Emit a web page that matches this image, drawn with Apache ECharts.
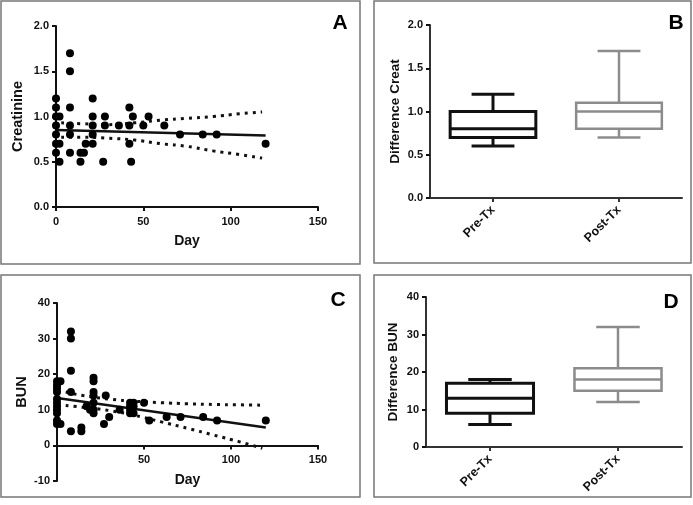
<!DOCTYPE html>
<html>
<head>
<meta charset="utf-8">
<script src="https://cdn.jsdelivr.net/npm/echarts@6/dist/echarts.min.js"></script>
<style>html,body{margin:0;padding:0;background:#fff}#c{width:693px;height:505px}</style>
</head>
<body>
<div id="c"></div>
<script>
// ---- Panel A: Creatinine vs Day ----
const A_days  = [0,0,0,0,0,0,0, 2,2,2, 8,8,8,8,8,8, 14,14,16,17,21, 21,21,21,21, 27,28,28, 36, 42,42,42,43, 44, 50, 53, 62, 71, 84, 92, 120];
const A_creat = [1.2,1.1,1.0,0.9,0.8,0.7,0.6, 1.0,0.7,0.5, 1.7,1.5,1.1,0.9,0.8,0.6, 0.6,0.5,0.6,0.7,0.7, 1.2,1.0,0.9,0.8, 0.5,1.0,0.9, 0.9, 1.1,0.9,0.7,0.5, 1.0, 0.9, 1.0, 0.9, 0.8, 0.8, 0.8, 0.7];
const A_fitDays = [0, 120];
const A_fit     = [0.85, 0.79];
const A_ciDays  = [3, 15, 30, 45, 60, 75, 90, 105, 118];
const A_ciUpper = [0.93, 0.92, 0.91, 0.93, 0.96, 0.98, 1.00, 1.03, 1.05];
const A_ciLower = [0.77, 0.77, 0.76, 0.74, 0.70, 0.67, 0.62, 0.58, 0.54];

// ---- Panel C: BUN vs Day ----
const C_days = [0,0,0,0,0,0,0,0,0,0,0, 2,2, 8,8,8,8,8, 14,14, 17, 19, 21,21,21,21,21,21,21, 27, 28, 30, 36, 42,42,42,42, 44,44,44, 50, 53, 63, 71, 84, 92, 120];
const C_bun  = [18,17,16,15,13,12,11,10,9,7,6, 18,6, 32,30,21,15,4, 5,4, 11, 10, 19,18,15,14,12,10,9, 6, 14, 8, 10, 12,11,10,9, 12,11,9, 12, 7, 8, 8, 8, 7, 7];
const C_fitDays = [0, 120];
const C_fit     = [13.3, 5.0];
const C_ciDays  = [5, 15, 30, 45, 60, 75, 90, 105, 118];
const C_ciUpper = [15.0, 14.0, 13.0, 12.4, 12.0, 11.7, 11.5, 11.4, 11.3];
const C_ciLower = [11.2, 10.7, 9.8, 8.4, 6.6, 4.8, 2.9, 1.0, -0.8];

// ---- Panels B & D: box plots [min, Q1, median, Q3, max] ----
const boxCats   = ['Pre-Tx', 'Post-Tx'];
const creatPre  = [0.6, 0.7, 0.8, 1.0, 1.2];
const creatPost = [0.7, 0.8, 1.0, 1.1, 1.7];
const bunPre    = [6, 9, 13, 17, 18];
const bunPost   = [12, 15, 18, 21, 32];

// tick labels
const A_xTicks = [0, 50, 100, 150];
const A_yTicks = [0.0, 0.5, 1.0, 1.5, 2.0];
const C_yTicks = [-10, 0, 10, 20, 30, 40];

const FONT = 'Liberation Sans';
const zip = (a, b) => a.map((v, i) => [v, b[i]]);

const boxColors = ['#111111', '#8c8c8c'];
const boxWidths = [3, 2.5];
function boxRender(params, api) {
  const idx = api.value(0);
  const lo = api.coord([idx, api.value(1)]);
  const q1 = api.coord([idx, api.value(2)]);
  const md = api.coord([idx, api.value(3)]);
  const q3 = api.coord([idx, api.value(4)]);
  const hi = api.coord([idx, api.value(5)]);
  const band = api.size([1, 0])[0];
  const bw = band * 0.68, cw = bw / 2;
  const cx = lo[0];
  const col = boxColors[params.dataIndex], lw = boxWidths[params.dataIndex];
  const st = {stroke: col, lineWidth: lw, fill: null};
  return {type: 'group', children: [
    {type: 'line', shape: {x1: cx, y1: hi[1], x2: cx, y2: q3[1]}, style: st},
    {type: 'line', shape: {x1: cx, y1: q1[1], x2: cx, y2: lo[1]}, style: st},
    {type: 'line', shape: {x1: cx - cw / 2, y1: hi[1], x2: cx + cw / 2, y2: hi[1]}, style: st},
    {type: 'line', shape: {x1: cx - cw / 2, y1: lo[1], x2: cx + cw / 2, y2: lo[1]}, style: st},
    {type: 'rect', shape: {x: cx - bw / 2, y: q3[1], width: bw, height: q1[1] - q3[1]}, style: {stroke: col, lineWidth: lw, fill: '#fff'}},
    {type: 'line', shape: {x1: cx - bw / 2, y1: md[1], x2: cx + bw / 2, y2: md[1]}, style: st}
  ]};
}
const boxData = (pre, post) => [[0, ...pre], [1, ...post]];

const labelStyle = {color: '#111', fontFamily: FONT, fontWeight: 'bold', fontSize: 11};
const nameStyle = (s) => ({color: '#111', fontFamily: FONT, fontWeight: 'bold', fontSize: s});
function valAxis(o) {
  return Object.assign({
    type: 'value',
    splitLine: {show: false},
    axisLine: {show: true, lineStyle: {color: '#111', width: 2}},
    axisTick: {show: true, length: 4, lineStyle: {color: '#111', width: 2}},
    axisLabel: Object.assign({margin: 7}, labelStyle),
    nameLocation: 'middle'
  }, o);
}
function catAxis(o) {
  return Object.assign({
    type: 'category',
    data: boxCats,
    boundaryGap: true,
    axisLine: {show: true, lineStyle: {color: '#333', width: 2}},
    axisTick: {show: true, alignWithLabel: true, length: 4, lineStyle: {color: '#333', width: 2}},
    axisLabel: Object.assign({rotate: 45, margin: 10}, labelStyle, {fontSize: 12.5}),
    splitLine: {show: false}
  }, o);
}

const chart = echarts.init(document.getElementById('c'), null, {renderer: 'canvas'});
const dotted = {color: '#111', width: 3, type: [3, 5]};
const dotStyle = {color: '#000', opacity: 1};

chart.setOption({
  animation: false,
  backgroundColor: '#fff',
  grid: [
    {left: 56, top: 26, width: 262, height: 181, outerBoundsMode: 'none', containLabel: false},
    {left: 430, top: 25, width: 252, height: 173, outerBoundsMode: 'none', containLabel: false},
    {left: 57, top: 303, width: 261, height: 178, outerBoundsMode: 'none', containLabel: false},
    {left: 426, top: 297, width: 256, height: 150, outerBoundsMode: 'none', containLabel: false}
  ],
  xAxis: [
    valAxis({gridIndex: 0, min: 0, max: 150, interval: 50, name: 'Day', nameGap: 27, nameTextStyle: nameStyle(14),
      axisLabel: Object.assign({margin: 9, formatter: v => A_xTicks.includes(v) ? String(v) : ''}, labelStyle)}),
    catAxis({gridIndex: 1}),
    valAxis({gridIndex: 2, min: 0, max: 150, interval: 50, name: 'Day', nameGap: 28, nameTextStyle: nameStyle(14),
      offset: -35.6,
      axisLine: {show: true, onZero: false, lineStyle: {color: '#111', width: 2}},
      axisLabel: Object.assign({margin: 9, formatter: v => v === 0 ? '' : String(v)}, labelStyle)}),
    catAxis({gridIndex: 3})
  ],
  yAxis: [
    valAxis({gridIndex: 0, min: 0, max: 2, interval: 0.5, name: 'Creatinine', nameGap: 31, nameTextStyle: nameStyle(14.5),
      axisLabel: Object.assign({margin: 7, formatter: v => A_yTicks.includes(v) ? v.toFixed(1) : ''}, labelStyle)}),
    valAxis({gridIndex: 1, min: 0, max: 2, interval: 0.5, name: 'Difference Creat', nameGap: 28, nameTextStyle: nameStyle(13.5),
      axisLine: {show: true, lineStyle: {color: '#333', width: 2}},
      axisLabel: Object.assign({margin: 7, formatter: v => v.toFixed(1)}, labelStyle)}),
    valAxis({gridIndex: 2, min: -10, max: 40, interval: 10, name: 'BUN', nameGap: 28, nameTextStyle: nameStyle(14.5),
      axisLabel: Object.assign({margin: 7, formatter: v => C_yTicks.includes(v) ? String(v) : ''}, labelStyle)}),
    valAxis({gridIndex: 3, min: 0, max: 40, interval: 10, name: 'Difference BUN', nameGap: 26, nameTextStyle: nameStyle(13.5),
      axisLine: {show: true, lineStyle: {color: '#333', width: 2}}})
  ],
  series: [
    {type: 'scatter', xAxisIndex: 0, yAxisIndex: 0, data: zip(A_days, A_creat), symbolSize: 8, itemStyle: dotStyle, z: 3},
    {type: 'line', xAxisIndex: 0, yAxisIndex: 0, data: zip(A_fitDays, A_fit), symbol: 'none', lineStyle: {color: '#111', width: 2.5}},
    {type: 'line', xAxisIndex: 0, yAxisIndex: 0, data: zip(A_ciDays, A_ciUpper), symbol: 'none', smooth: true, lineStyle: dotted},
    {type: 'line', xAxisIndex: 0, yAxisIndex: 0, data: zip(A_ciDays, A_ciLower), symbol: 'none', smooth: true, lineStyle: dotted},

    {type: 'custom', xAxisIndex: 1, yAxisIndex: 1, data: boxData(creatPre, creatPost), renderItem: boxRender, encode: {x: 0, y: [1, 2, 3, 4, 5]}},

    {type: 'scatter', xAxisIndex: 2, yAxisIndex: 2, data: zip(C_days, C_bun), symbolSize: 8, itemStyle: dotStyle, z: 3},
    {type: 'line', xAxisIndex: 2, yAxisIndex: 2, data: zip(C_fitDays, C_fit), symbol: 'none', lineStyle: {color: '#111', width: 2.5}},
    {type: 'line', xAxisIndex: 2, yAxisIndex: 2, data: zip(C_ciDays, C_ciUpper), symbol: 'none', smooth: true, lineStyle: dotted},
    {type: 'line', xAxisIndex: 2, yAxisIndex: 2, data: zip(C_ciDays, C_ciLower), symbol: 'none', smooth: true, lineStyle: dotted},

    {type: 'custom', xAxisIndex: 3, yAxisIndex: 3, data: boxData(bunPre, bunPost), renderItem: boxRender, encode: {x: 0, y: [1, 2, 3, 4, 5]}}
  ],
  graphic: [
    {type: 'rect', shape: {x: 1, y: 1, width: 359, height: 263}, style: {fill: null, stroke: '#777', lineWidth: 1.5}, silent: true},
    {type: 'rect', shape: {x: 374, y: 1, width: 317, height: 262}, style: {fill: null, stroke: '#777', lineWidth: 1.5}, silent: true},
    {type: 'rect', shape: {x: 1, y: 275, width: 359, height: 222}, style: {fill: null, stroke: '#777', lineWidth: 1.5}, silent: true},
    {type: 'rect', shape: {x: 374, y: 275, width: 317, height: 222}, style: {fill: null, stroke: '#777', lineWidth: 1.5}, silent: true},
    {type: 'text', x: 340, y: 23, style: {text: 'A', font: 'bold 21px "Liberation Sans"', fill: '#000', textAlign: 'center', textVerticalAlign: 'middle'}},
    {type: 'text', x: 676, y: 23, style: {text: 'B', font: 'bold 21px "Liberation Sans"', fill: '#000', textAlign: 'center', textVerticalAlign: 'middle'}},
    {type: 'text', x: 338, y: 300, style: {text: 'C', font: 'bold 21px "Liberation Sans"', fill: '#000', textAlign: 'center', textVerticalAlign: 'middle'}},
    {type: 'text', x: 671, y: 302, style: {text: 'D', font: 'bold 21px "Liberation Sans"', fill: '#000', textAlign: 'center', textVerticalAlign: 'middle'}}
  ]
});
</script>
</body>
</html>
